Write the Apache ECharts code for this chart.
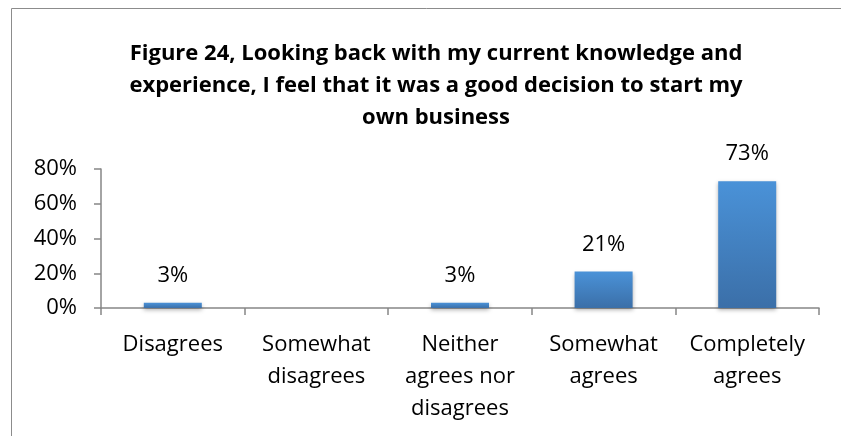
<!DOCTYPE html>
<html>
<head>
<meta charset="utf-8">
<script src="https://cdn.jsdelivr.net/npm/echarts@6/dist/echarts.min.js"></script>
<style>
  html, body { margin: 0; padding: 0; background: #fff; }
  #chart { width: 841px; height: 436px; }
</style>
</head>
<body>
<div id="chart"></div>
<script>
const categories = ['Disagrees', 'Somewhat\ndisagrees', 'Neither\nagrees nor\ndisagrees', 'Somewhat\nagrees', 'Completely\nagrees'];
const values = [3, 0, 3, 21, 73];
const yTicks = [0, 20, 40, 60, 80];

const chart = echarts.init(document.getElementById('chart'));
const font = 'Open Sans, sans-serif';

chart.setOption({
    animation: false,
    graphic: [{
        type: 'rect',
        shape: { x: 11.5, y: 8.5, width: 900, height: 500 },
        style: { fill: 'none', stroke: '#8c8c8c', lineWidth: 1 }
    }],
    title: {
        text: 'Figure 24, Looking back with my current knowledge and\nexperience, I feel that it was a good decision to start my\nown business',
        left: 431,
        top: 33,
        textAlign: 'center',
        textStyle: {
            fontFamily: font,
            fontWeight: 'bold',
            fontSize: 22,
            lineHeight: 32,
            color: '#000'
        }
    },
    grid: { left: 101, right: 22, top: 169, bottom: 128 },
    xAxis: {
        type: 'category',
        data: categories,
        axisLine: { lineStyle: { color: '#868686', width: 1.5 } },
        axisTick: { show: true, length: 7, lineStyle: { color: '#868686', width: 1.5 } },
        axisLabel: {
            fontFamily: font,
            fontSize: 22,
            lineHeight: 32,
            color: '#000',
            margin: 21,
            interval: 0
        }
    },
    yAxis: {
        type: 'value',
        min: yTicks[0],
        max: yTicks[yTicks.length - 1],
        interval: 20,
        splitLine: { show: false },
        axisLine: { show: true, lineStyle: { color: '#868686', width: 1.5 } },
        axisTick: { show: true, length: 7, lineStyle: { color: '#868686', width: 1.5 } },
        axisLabel: {
            fontFamily: font,
            fontSize: 22,
            color: '#000',
            margin: 24,
            formatter: '{value}%'
        }
    },
    series: [{
        type: 'bar',
        data: values,
        barWidth: 58,
        itemStyle: {
            color: new echarts.graphic.LinearGradient(0, 0, 0, 1, [
                { offset: 0, color: '#4a92d8' },
                { offset: 1, color: '#3b6fa8' }
            ]),
            shadowColor: 'rgba(0,0,0,0.3)',
            shadowBlur: 4,
            shadowOffsetY: 2
        },
        label: {
            show: true,
            position: 'top',
            distance: 16,
            fontFamily: font,
            fontSize: 22,
            color: '#000',
            formatter: p => p.value > 0 ? p.value + '%' : ''
        }
    }]
});
</script>
</body>
</html>
